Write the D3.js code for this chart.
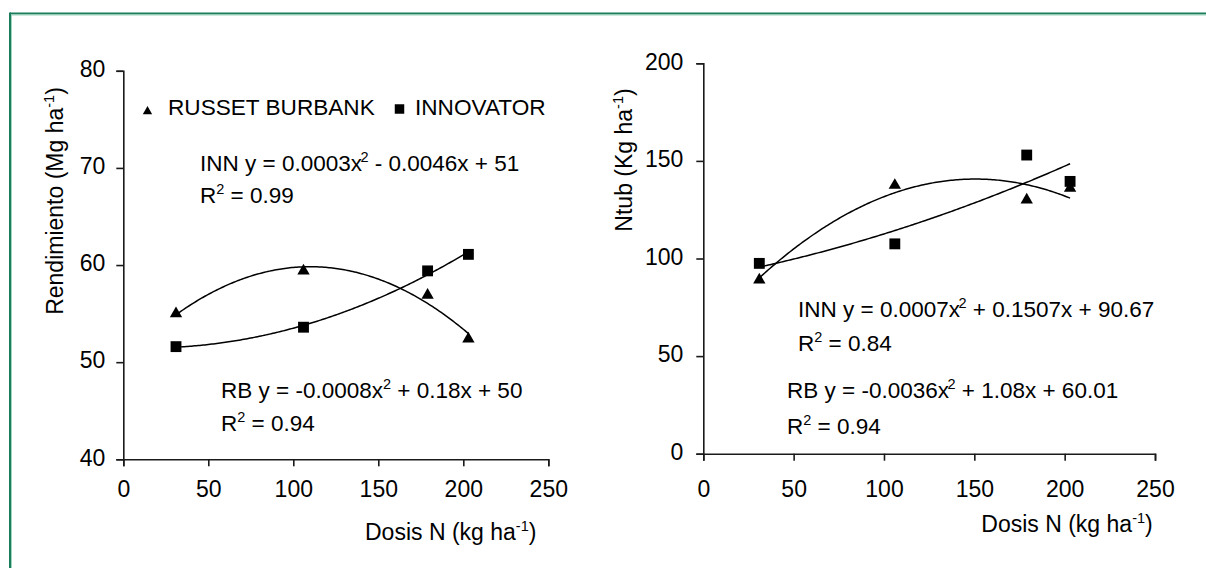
<!DOCTYPE html>
<html><head><meta charset="utf-8">
<script src="https://cdn.jsdelivr.net/npm/d3@7"></script>
<style>
body{margin:0;background:#fff}
svg{display:block}
text{font-family:"Liberation Sans",Arial,sans-serif;fill:#000}
</style>
</head><body>
<svg id="c" width="1206" height="568"></svg>
<script>
// ---- data ----
const doses = [31, 106, 179, 203];
const yieldRB = [55.0, 59.4, 56.9, 52.4];
const yieldINN = [51.6, 53.6, 59.4, 61.1];
const ntubRB = [89, 137.5, 130, 136];
const ntubINN = [97.5, 107.5, 153, 139.5];
const xTicks = [0, 50, 100, 150, 200, 250];
const yieldTicks = [40, 50, 60, 70, 80];
const ntubTicks = [0, 50, 100, 150, 200];
const legendLabels = ["RUSSET BURBANK", "INNOVATOR"];

const FONT = '"Liberation Sans",Arial,sans-serif';
const svg = d3.select("#c");

// frame
svg.append("line").attr("x1",10).attr("y1",13.5).attr("x2",1206).attr("y2",13.5).attr("stroke","#1b7d5b").attr("stroke-width",2);
svg.append("line").attr("x1",11).attr("y1",15).attr("x2",1206).attr("y2",15).attr("stroke","#9ed6c0").attr("stroke-width",1);
svg.append("line").attr("x1",10).attr("y1",12.5).attr("x2",10).attr("y2",568).attr("stroke","#1b7d5b").attr("stroke-width",2);
svg.append("line").attr("x1",11.5).attr("y1",15).attr("x2",11.5).attr("y2",568).attr("stroke","#9ed6c0").attr("stroke-width",1);

function quadFit(xs, ys){
  let S=[0,0,0,0,0], T=[0,0,0];
  xs.forEach((x,i)=>{ for(let k=0;k<5;k++) S[k]+=Math.pow(x,k); for(let k=0;k<3;k++) T[k]+=ys[i]*Math.pow(x,k); });
  const A=[[S[0],S[1],S[2]],[S[1],S[2],S[3]],[S[2],S[3],S[4]]];
  const det=m=>m[0][0]*(m[1][1]*m[2][2]-m[1][2]*m[2][1])-m[0][1]*(m[1][0]*m[2][2]-m[1][2]*m[2][0])+m[0][2]*(m[1][0]*m[2][1]-m[1][1]*m[2][0]);
  const D=det(A);
  const c=[0,1,2].map(j=>{const M=A.map((r,i)=>r.map((v,k)=>k===j?T[i]:v));return det(M)/D;});
  return x=>c[0]+c[1]*x+c[2]*x*x;
}

function addText(g, x, y, parts, anchor, size){
  const fs = size || 22.5;
  const t = g.append("text").attr("x",x).attr("y",y).attr("font-size",fs).attr("text-anchor",anchor||"start");
  parts.forEach(p=>{
    if(p.sup){
      t.append("tspan").attr("dx",p.dx||0).attr("dy",-9).attr("font-size",14.5).text(p.sup);
      t.append("tspan").attr("dy",9).text(p.after||"");
    } else {
      t.append("tspan").text(p.t);
    }
  });
  return t;
}

function panel(opt){
  const g = svg.append("g");
  const x = d3.scaleLinear().domain([0,250]).range(opt.xr);
  const y = d3.scaleLinear().domain(opt.yd).range(opt.yr);
  const x0 = opt.yr[0];
  // axes
  const ax = g.append("g").attr("transform",`translate(0,${x0})`)
    .call(d3.axisBottom(x).tickValues(xTicks).tickSize(7).tickSizeOuter(7));
  ax.selectAll("text").attr("y", 497 - x0).attr("dy",0).attr("font-size",23).style("font-family",FONT).attr("fill","#000");
  const ay = g.append("g").attr("transform",`translate(${opt.xr[0]},0)`)
    .call(d3.axisLeft(y).tickValues(opt.yt).tickSize(7).tickSizeOuter(7));
  ay.selectAll("text").attr("x", -opt.lblGap).attr("dy",0).attr("y",5.8).attr("font-size",23).style("font-family",FONT).attr("fill","#000");
  [ax,ay].forEach(a=>{a.selectAll("path,line").attr("stroke","#1a1a1a").attr("stroke-width",1.6);});

  // trend lines (least-squares quadratic through the points)
  const line = d3.line().x(d=>x(d[0])).y(d=>y(d[1]));
  const xs = d3.range(doses[0], doses[doses.length-1]+0.001, 1);
  [opt.rb, opt.inn].forEach(vals=>{
    const f = quadFit(doses, vals);
    g.append("path").attr("d", line(xs.map(v=>[v,f(v)]))).attr("fill","none").attr("stroke","#000").attr("stroke-width",1.5);
  });
  // markers
  g.selectAll(".tri").data(doses.map((d,i)=>[d,opt.rb[i]])).join("path")
    .attr("transform",d=>`translate(${x(d[0])},${y(d[1])})`)
    .attr("d", d3.symbol(d3.symbolTriangle, 66)()).attr("fill","#000");
  g.selectAll(".sq").data(doses.map((d,i)=>[d,opt.inn[i]])).join("path")
    .attr("transform",d=>`translate(${x(d[0])},${y(d[1])})`)
    .attr("d", d3.symbol(d3.symbolSquare, 118)()).attr("fill","#000");

  // axis titles
  addText(g, opt.xtX, opt.xtY, [{t:"Dosis N (kg ha"},{sup:"-1", after:")"}], "middle", 23);
  const yt = g.append("g").attr("transform",`translate(${opt.ytX},${opt.ytY}) rotate(-90)`);
  addText(yt, 0, 0, opt.ytParts, "middle", 23);
  return {g,x,y};
}

panel({xr:[123.3,548.3], yd:[40,80], yr:[459.3,70.8], yt:yieldTicks, lblGap:18,
  rb:yieldRB, inn:yieldINN, xtX:450.7, xtY:540, ytX:63, ytY:201,
  ytParts:[{t:"Rendimiento (Mg ha"},{sup:"-1", after:")"}]});
panel({xr:[703.3,1155], yd:[0,200], yr:[453.7,63.3], yt:ntubTicks, lblGap:20,
  rb:ntubRB, inn:ntubINN, xtX:1067, xtY:532, ytX:632, ytY:160,
  ytParts:[{t:"Ntub (Kg ha"},{sup:"-1", after:")"}]});

// legend
const lg = svg.append("g");
lg.append("path").attr("transform","translate(147.5,111.5)").attr("d", d3.symbol(d3.symbolTriangle, 38)()).attr("fill","#000");
lg.append("text").attr("x",168).attr("y",115).attr("font-size",22.6).text(legendLabels[0]);
lg.append("path").attr("transform","translate(399.5,109)").attr("d", d3.symbol(d3.symbolSquare, 90)()).attr("fill","#000");
lg.append("text").attr("x",415).attr("y",115).attr("font-size",22.6).text(legendLabels[1]);

// equations
addText(svg, 200, 171, [{t:"INN y = 0.0003x"},{sup:"2", dx:-1.5, after:" - 0.0046x + 51"}]);
addText(svg, 200, 203, [{t:"R"},{sup:"2", after:" = 0.99"}]);
addText(svg, 221, 398, [{t:"RB y = -0.0008x"},{sup:"2", after:" + 0.18x + 50"}]);
addText(svg, 221, 431, [{t:"R"},{sup:"2", after:" = 0.94"}]);
addText(svg, 798, 317, [{t:"INN y = 0.0007x"},{sup:"2", dx:-1.5, after:" + 0.1507x + 90.67"}]);
addText(svg, 798, 351, [{t:"R"},{sup:"2", after:" = 0.84"}]);
addText(svg, 787, 398, [{t:"RB y = -0.0036x"},{sup:"2", dx:-1.5, after:" + 1.08x + 60.01"}]);
addText(svg, 787, 434, [{t:"R"},{sup:"2", after:" = 0.94"}]);
</script>
</body></html>
